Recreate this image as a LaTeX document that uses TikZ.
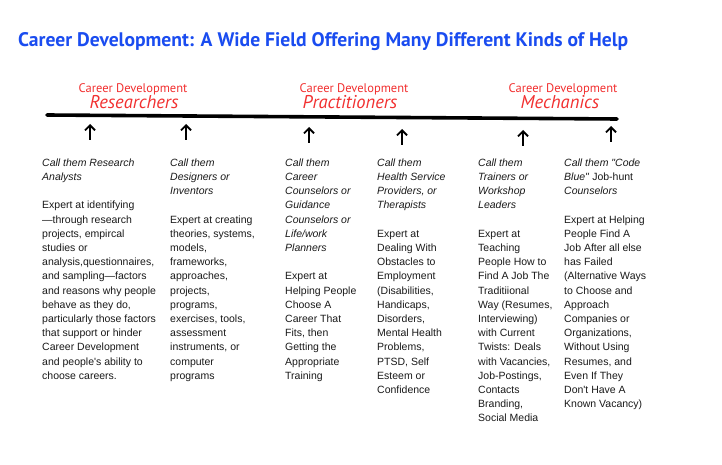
\documentclass[tikz,border=0pt]{standalone}
\usepackage{fontspec}
\setmainfont{Liberation Sans}
\newfontfamily\headfont{PT Sans}
\usepackage{xcolor}
\usetikzlibrary{arrows.meta}

\definecolor{titleblue}{HTML}{1A4CF0}
\definecolor{labelred}{HTML}{F23030}
\definecolor{bodygray}{HTML}{1A1A1A}

\tikzset{
    coltext/.style={anchor=north west, inner sep=0pt, align=left, text=bodygray,
        font=\fontsize{10.5}{14.2}\selectfont},
    grouplabel/.style={text=labelred, inner sep=0pt, font=\headfont\fontsize{12.5}{14}\selectfont},
    groupname/.style={text=labelred, inner sep=0pt, font=\headfont\itshape\fontsize{18.5}{20}\selectfont},
    uparrow/.style={line width=1.8pt, -{Straight Barb[length=5pt,width=10pt]}}
}

\begin{document}
\begin{tikzpicture}[x=1pt, y=-1pt]
    \useasboundingbox[fill=white] (0,0) rectangle (722,465);

    % Title
    \node[anchor=base west, inner sep=0pt, text=titleblue,
          font=\headfont\bfseries\fontsize{19.6}{22}\selectfont] (title) at (18,47)
          {Career Development: A Wide Field Offering Many Different Kinds of Help};

    % Group labels
    \foreach \x/\gname/\gx/\nm in {133/Researchers/134/res, 354/Practitioners/350/pra, 563/Mechanics/560/mec} {
        \node[grouplabel, anchor=base] (top\nm) at (\x,93) {Career Development};
        \node[groupname, anchor=base] (name\nm) at (\gx,109) {\gname};
    }

    % Field line
    \coordinate (lineL) at (47,115);
    \coordinate (lineR) at (617,119);
    \draw[line width=3.6pt, line cap=round] (lineL) -- (lineR);

    % Arrows
    \foreach \x/\yb [count=\i] in {90/140, 186/140, 309/143, 402/145, 523/146, 611/142} {
        \coordinate (foot\i) at (\x,\yb);
        \coordinate (tip\i) at (\x,\yb-16);
        \draw[uparrow] (foot\i) -- (tip\i);
    }

    % Columns
    \node[coltext] (col1) at (42,158.5) {\textit{Call them Research}\\ \textit{Analysts}\\[14.2pt]
        Expert at identifying\\ ---through research\\ projects, empircal\\ studies or\\
        analysis,questionnaires,\\ and sampling---factors\\ and reasons why people\\
        behave as they do,\\ particularly those factors\\ that support or hinder\\
        Career Development\\ and people\textquotesingle s ability to\\ choose careers.};

    \node[coltext] (col2) at (170,158.5) {\textit{Call them}\\ \textit{Designers or}\\ \textit{Inventors}\\[14.2pt]
        Expert at creating\\ theories, systems,\\ models,\\ frameworks,\\ approaches,\\
        projects,\\ programs,\\ exercises, tools,\\ assessment\\ instruments, or\\
        computer\\ programs};

    \node[coltext] (col3) at (285,158.5) {\textit{Call them}\\ \textit{Career}\\ \textit{Counselors or}\\
        \textit{Guidance}\\ \textit{Counselors or}\\ \textit{Life/work}\\ \textit{Planners}\\[14.2pt]
        Expert at\\ Helping People\\ Choose A\\ Career That\\ Fits, then\\ Getting the\\
        Appropriate\\ Training};

    \node[coltext] (col4) at (377,158.5) {\textit{Call them}\\ \textit{Health Service}\\
        \textit{Providers, or}\\ \textit{Therapists}\\[14.2pt]
        Expert at\\ Dealing With\\ Obstacles to\\ Employment\\ (Disabilities,\\
        Handicaps,\\ Disorders,\\ Mental Health\\ Problems,\\ PTSD, Self\\
        Esteem or\\ Confidence};

    \node[coltext] (col5) at (478,158.5) {\textit{Call them}\\ \textit{Trainers or}\\
        \textit{Workshop}\\ \textit{Leaders}\\[14.2pt]
        Expert at\\ Teaching\\ People How to\\ Find A Job The\\ Traditiional\\
        Way (Resumes,\\ Interviewing)\\ with Current\\ Twists: Deals\\
        with Vacancies,\\ Job-Postings,\\ Contacts\\ Branding,\\ Social Media};

    \node[coltext] (col6) at (564,158.5) {\textit{Call them \textquotedbl Code}\\ \textit{Blue\textquotedbl} Job-hunt\\
        \textit{Counselors}\\[14.2pt]
        Expert at Helping\\ People Find A\\ Job After all else\\ has Failed\\
        (Alternative Ways\\ to Choose and\\ Approach\\ Companies or\\
        Organizations,\\ Without Using\\ Resumes, and\\ Even If They\\
        Don\textquotesingle t Have A\\ Known Vacancy)};
\end{tikzpicture}
\end{document}
